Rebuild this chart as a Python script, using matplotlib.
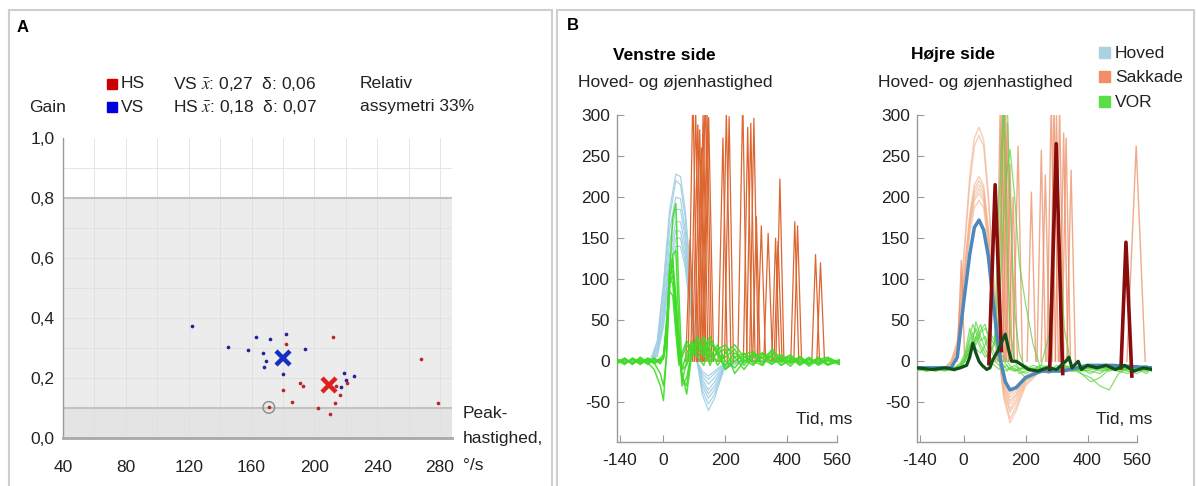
import matplotlib
matplotlib.use("Agg")
import matplotlib.pyplot as plt
from matplotlib.patches import Rectangle

plt.rcParams['font.family'] = ['Liberation Sans', 'DejaVu Sans']
plt.rcParams['mathtext.fontset'] = 'stix'
plt.rcParams['axes.unicode_minus'] = False

W, H = 1196, 486

# ---------------- panel A data ----------------
vs_speed = [122, 145, 158, 163, 172, 182, 167, 169, 168, 180, 194, 219, 220, 217, 225]
vs_gain = [0.374, 0.302, 0.293, 0.338, 0.330, 0.346, 0.282, 0.256, 0.237, 0.214, 0.298, 0.217, 0.194, 0.171, 0.208]
hs_speed = [182, 212, 180, 191, 193, 186, 171, 202, 210, 213, 216, 214, 221, 268, 279]
hs_gain = [0.313, 0.337, 0.160, 0.184, 0.172, 0.121, 0.102, 0.100, 0.081, 0.116, 0.142, 0.174, 0.183, 0.262, 0.118]
vs_mean = (180, 0.266)
hs_mean = (209, 0.176)
flagged = (171, 0.102)
speed_ticks = [40, 80, 120, 160, 200, 240, 280]
gain_ticks = [0.0, 0.2, 0.4, 0.6, 0.8, 1.0]
gain_labels = ['0,0', '0,2', '0,4', '0,6', '0,8', '1,0']

# ---------------- panel B data ----------------
time_ticks = [-140, 0, 200, 400, 560]
vel_ticks = [-50, 0, 50, 100, 150, 200, 250, 300]

# left side: head traces
head_t = [-150, -60, -40, -20, 0, 20, 40, 55, 70, 85, 105, 125, 145, 165, 195, 240, 300, 570]
head_left = [
    [0, 0, 3, 25, 95, 185, 228, 225, 185, 120, 10, -40, -60, -45, -10, -2, 0, 0],
    [0, 0, 3, 22, 90, 175, 220, 215, 175, 110, 8, -35, -52, -40, -9, -2, 0, 0],
    [0, 0, 2, 18, 80, 160, 200, 198, 160, 100, 6, -30, -45, -35, -8, 0, 0, 0],
    [0, 0, 2, 15, 70, 145, 185, 185, 150, 92, 5, -26, -40, -30, -7, 0, 0, 0],
    [0, 0, 1, 12, 60, 130, 170, 170, 140, 85, 5, -22, -35, -25, -6, 0, 0, 0],
    [0, 0, 1, 10, 55, 120, 160, 158, 130, 78, 4, -18, -28, -20, -5, 0, 0, 0],
    [0, 0, 1, 8, 48, 110, 150, 150, 122, 72, 4, -15, -22, -15, -4, 0, 0, 0],
    [0, 0, 1, 6, 42, 100, 140, 140, 115, 66, 3, -12, -18, -12, -3, 0, 0, 0],
]

# left side: VOR traces
vor_t = [-150, -125, -100, -75, -50, -30, -10, 0, 10, 20, 30, 40, 50, 60, 75, 90, 110,
         130, 150, 175, 200, 230, 260, 290, 320, 350, 380, 410, 440, 470, 500, 530, 568]
vor_left = [
    [2, -3, 3, -2, 4, 0, 2, 5, 30, 110, 175, 192, 80, -10, -5, 15, 20, 10, 25, 8, -10, 5, 10, -3, 5, 12, -2, 6, -4, 3, -5, 2, -3],
    [-2, 4, -3, 2, -4, 3, 0, 3, 25, 90, 130, 135, 40, -30, -20, 10, 25, 15, 5, 20, 0, -8, 5, 8, -5, 10, 2, -6, 5, -3, 4, -4, 0],
    [0, 3, -4, 5, -2, -10, -30, -48, 10, 100, 120, 80, 20, -15, -40, 5, 15, 30, 10, 0, 5, 15, -5, 10, 3, -4, 8, -2, 3, -6, 2, 5, -2],
    [3, -2, 2, -3, 3, -2, 4, 8, 40, 105, 110, 60, 5, -10, 10, 20, 5, 15, 30, 10, -5, 10, 2, -5, 8, 5, -5, 3, -2, 5, -3, 2, -4],
    [-3, 2, -2, 4, -1, 2, -3, 5, 45, 100, 95, 45, 0, 5, 20, 12, 30, 5, 15, -5, 10, 20, 5, 0, -5, 15, 3, -3, 6, -2, 3, -5, 1],
    [1, -4, 4, -1, 2, -3, 2, 4, 35, 115, 125, 70, 15, -25, 0, 25, 10, 20, -5, 15, 20, 5, -10, 5, 10, 0, 5, 4, -5, 2, -2, 4, -3],
    [-1, 3, -3, 2, -2, 4, -2, 6, 50, 85, 80, 35, -5, 10, 25, 15, 5, -5, 20, 15, -10, 0, 8, 12, -2, 6, -5, 2, 4, -4, 5, -3, 2],
    [2, -2, 3, -4, 2, -2, -15, -30, 5, 95, 105, 65, 10, -20, -30, 10, 20, 25, 0, 10, 15, -15, 0, 5, 10, -3, 2, 8, -2, 3, -3, 1, -2],
]

# left side: saccades (start, peak time, peak, end)
sac_l_start = [72, 80, 88, 94, 100, 106, 112, 118, 124, 130, 176, 188, 197, 240, 258, 268, 278, 288, 302, 324, 350, 357, 363, 411, 421, 479, 495]
sac_l_peak_t = [86, 95, 104, 111, 117, 123, 128, 135, 141, 146, 192, 203, 212, 256, 272, 282, 292, 300, 316, 338, 362, 370, 376, 424, 433, 491, 507]
sac_l_peak = [148, 330, 305, 288, 282, 260, 300, 330, 300, 297, 272, 305, 298, 320, 285, 290, 296, 176, 165, 156, 150, 146, 222, 170, 165, 130, 120]
sac_l_end = [100, 110, 120, 126, 132, 138, 144, 150, 156, 162, 206, 218, 226, 270, 286, 296, 306, 312, 330, 352, 375, 383, 389, 437, 446, 504, 520]

# right side: saccade-coloured head-like humps
hump_t = [-150, -60, -40, -20, 0, 20, 35, 50, 65, 80, 95, 110, 130, 150, 170, 200, 240, 300, 350, 400, 610]
hump_right = [
    [-8, -8, 0, 25, 125, 225, 272, 285, 270, 205, 115, 25, -45, -75, -60, -30, -15, -10, -12, -8, -8],
    [-8, -8, 0, 22, 120, 215, 262, 275, 262, 198, 110, 22, -42, -70, -55, -28, -14, -10, -10, -8, -8],
    [-8, -8, -2, 18, 100, 178, 215, 225, 214, 162, 90, 16, -38, -62, -50, -25, -12, -9, -10, -8, -8],
    [-8, -8, -2, 17, 97, 174, 210, 220, 210, 158, 88, 14, -35, -58, -46, -24, -12, -9, -10, -8, -8],
    [-8, -8, -2, 16, 94, 170, 205, 215, 205, 154, 86, 12, -32, -52, -42, -22, -11, -9, -9, -8, -8],
    [-8, -8, -3, 15, 92, 166, 200, 210, 200, 150, 84, 12, -30, -48, -40, -20, -10, -9, -9, -8, -8],
    [-8, -8, -3, 14, 90, 162, 196, 205, 195, 146, 80, 10, -28, -44, -36, -19, -10, -9, -9, -8, -8],
    [-8, -8, -3, 13, 86, 155, 187, 196, 187, 140, 76, 10, -26, -40, -33, -18, -10, -9, -9, -8, -8],
]

# right side: thin saccades
sac_r_start = [-20, 104, 110, 116, 122, 128, 136, 146, 160, 205, 237, 250, 269, 278, 286, 296, 309, 317, 333, 527]
sac_r_peak_t = [-7, 118, 124, 130, 136, 142, 150, 160, 176, 219, 251, 264, 283, 292, 300, 310, 323, 331, 347, 557]
sac_r_peak = [123, 300, 310, 330, 305, 290, 240, 200, 262, 206, 257, 227, 320, 310, 300, 310, 278, 272, 233, 262]
sac_r_end = [4, 132, 138, 144, 150, 156, 164, 174, 190, 233, 265, 278, 297, 306, 314, 324, 337, 345, 361, 586]

# right side: highlighted saccades
dark_start = [82, 278, 508]
dark_start_val = [-3, -10, -8]
dark_peak_t = [102, 299, 524]
dark_peak = [215, 265, 145]
dark_end = [122, 320, 543]
dark_end_val = [13, -15, -18]

# right side: VOR traces
rvor_t = [-150, -120, -90, -60, -30, -10, 5, 20, 30, 40, 55, 70, 85, 100, 115, 130, 140, 150,
          165, 180, 200, 225, 250, 275, 300, 325, 350, 380, 410, 440, 470, 500, 530, 560, 590, 608]
vor_right = [
    [-10, -8, -12, -9, -10, -5, 5, 30, 45, 35, 20, 10, 0, -5, -10, -8, -5, -10, -12, -8, -10, -5, -8, -12, -10, -5, -8, -10, -12, -15, -8, -10, -5, -10, -8, -12],
    [-8, -12, -9, -11, -8, -2, 10, 40, 25, 48, 30, 15, 5, 0, -5, -10, -12, -8, -5, -10, -15, -10, -5, -8, -12, -8, -5, -15, -20, -30, -35, -15, -8, -10, -12, -8],
    [-10, -9, -11, -8, -12, -8, 0, 20, 15, 30, 45, 25, 10, 20, 100, 300, 330, 200, 60, 10, -10, -12, -8, -5, -10, -12, -10, -8, -5, -10, -12, -8, -10, -5, -10, -12],
    [-9, -11, -8, -10, -9, -6, 2, 15, 25, 20, 35, 40, 30, 20, 60, 180, 230, 258, 200, 120, 70, 20, -10, -15, -10, -8, -12, -10, -15, -8, -10, -12, -8, -10, -5, -10],
    [-11, -8, -10, -12, -8, -5, 3, 18, 30, 40, 25, 30, 15, 5, 0, -5, -10, -8, -12, -10, -8, -10, -5, 30, 215, 40, -10, -5, -8, -12, -10, -5, -10, -8, -12, -10],
    [-8, -10, -12, -8, -11, -7, 0, 12, 20, 25, 38, 45, 20, 10, 5, 0, -5, -10, -8, -15, -12, -8, -10, -12, -5, -10, -8, -12, -10, -8, -5, -10, -12, -15, -8, -10],
    [-12, -9, -8, -11, -10, -4, 6, 25, 35, 15, 10, 20, 35, 25, 10, 5, 0, -5, -10, -12, -20, -15, -8, -10, -12, -5, -10, -15, -25, -20, -10, -8, -12, -10, -15, -8],
    [-9, -12, -10, -8, -9, -8, 2, 10, 20, 30, 15, 5, 10, 25, 200, 320, 150, 40, 0, -10, -5, -10, -12, -8, -10, -5, -12, -10, -8, -5, -10, -12, -15, -10, -8, -12],
]

# right side: mean head and mean VOR
mean_head_t = [-150, -40, -20, 0, 20, 35, 50, 65, 80, 95, 110, 120, 135, 150, 170, 200, 250, 320, 400, 480, 608]
mean_head = [-8, -8, 5, 70, 130, 163, 172, 160, 128, 75, 25, 0, -25, -35, -32, -20, -12, -12, -5, -5, -8]
mean_vor_t = [-150, -100, -60, -30, -10, 10, 20, 30, 40, 50, 60, 75, 85, 95, 110, 125, 135, 145, 155, 170,
              190, 210, 240, 270, 300, 330, 340, 350, 370, 380, 400, 430, 460, 490, 520, 550, 580, 608]
mean_vor = [-8, -10, -8, -10, -8, -5, 5, 22, 10, 0, -5, -10, -8, 2, 12, 25, 33, 15, 0, 0,
            -5, -10, -12, -8, -10, 0, 5, -8, 0, -10, -5, -8, -5, -10, -5, -12, -8, -10]

legend_names = ['Hoved', 'Sakkade', 'VOR']
legend_colors = ['#a9d1e2', '#f28d68', '#5ade45']


def fx(px):
    return px / W


def fy(py):
    return 1 - py / H


fig = plt.figure(figsize=(W / 100, H / 100), dpi=100)

# panel frames
fig.add_artist(Rectangle((fx(9), -0.1), fx(552 - 9), fy(10) + 0.1, fill=False,
                         ec='#cfcfcf', lw=1.5, transform=fig.transFigure))
fig.add_artist(Rectangle((fx(557), -0.1), fx(1194 - 557), fy(10) + 0.1, fill=False,
                         ec='#cfcfcf', lw=1.5, transform=fig.transFigure))
fig.text(fx(17), fy(28), 'A', fontsize=12, fontweight='bold', va='center')
fig.text(fx(567), fy(26), 'B', fontsize=12, fontweight='bold', va='center')

# ---------------- panel A ----------------
ax = fig.add_axes([fx(63), fy(438), fx(452 - 63), (438 - 138) / H])
ax.set_xlim(40, 287.6)
ax.set_ylim(0, 1.0)
ax.axhspan(0, 0.1, color='#e4e4e4', zorder=0, lw=0)
ax.axhspan(0.1, 0.8, color='#ececec', zorder=0, lw=0)
for yy in [0.1, 0.8]:
    ax.axhline(yy, color='#c2c2c2', lw=1.5, zorder=1)
for xx in range(40, 300, 20):
    ax.axvline(xx, color='#e0e0e0', lw=0.6, zorder=0.5)
for k in range(1, 10):
    ax.axhline(k / 10, color='#e0e0e0', lw=0.6, zorder=0.5)
ax.set_xticks(speed_ticks)
ax.set_yticks(gain_ticks)
ax.set_yticklabels(gain_labels)
ax.tick_params(axis='both', length=0, labelsize=12.5, labelcolor='#222222')
ax.tick_params(axis='x', pad=16)
ax.tick_params(axis='y', pad=6)
for s in ['top', 'right']:
    ax.spines[s].set_visible(False)
ax.spines['left'].set_color('#9a9a9a')
ax.spines['left'].set_linewidth(1)
ax.spines['bottom'].set_color('#a8a8a8')
ax.spines['bottom'].set_linewidth(2)

ax.scatter(vs_speed, vs_gain, s=7, color='#23239a', zorder=3, lw=0)
ax.scatter(hs_speed, hs_gain, s=7, color='#b8262a', zorder=3, lw=0)
ax.scatter([flagged[0]], [flagged[1]], s=70, facecolor='none', edgecolor='#8a8a8a', lw=1, zorder=3)
ax.plot([vs_mean[0]], [vs_mean[1]], marker='x', ms=10, mew=3.2, color='#1330c2', zorder=4)
ax.plot([hs_mean[0]], [hs_mean[1]], marker='x', ms=10, mew=3.2, color='#df1f1f', zorder=4)

fig.text(fx(29), fy(107), 'Gain', fontsize=12.5, va='center', color='#222222')
fig.add_artist(Rectangle((fx(107), fy(89)), fx(10), 10 / H, color='#cc0000', transform=fig.transFigure))
fig.add_artist(Rectangle((fx(107), fy(112)), fx(10), 10 / H, color='#0000dd', transform=fig.transFigure))
fig.text(fx(121), fy(84), 'HS', fontsize=12.5, va='center', color='#222222')
fig.text(fx(121), fy(107), 'VS', fontsize=12.5, va='center', color='#222222')
fig.text(fx(173), fy(84), r'VS $\bar{x}$: 0,27  δ: 0,06', fontsize=12.5, va='center', color='#222222')
fig.text(fx(173), fy(107), r'HS $\bar{x}$: 0,18  δ: 0,07', fontsize=12.5, va='center', color='#222222')
fig.text(fx(360), fy(83), 'Relativ', fontsize=12.5, va='center', color='#222222')
fig.text(fx(360), fy(106), 'assymetri 33%', fontsize=12.5, va='center', color='#222222')
for txt, yy in [('Peak-', 413), ('hastighed,', 438), ('°/s', 465)]:
    fig.text(fx(463), fy(yy), txt, fontsize=12.5, va='center', color='#222222')


# ---------------- panel B ----------------
def style_b(axb, xmax):
    axb.set_xlim(-150, xmax)
    axb.set_ylim(-98, 300)
    axb.set_xticks(time_ticks)
    axb.set_yticks(vel_ticks)
    axb.tick_params(direction='in', length=5, color='#9a9a9a', labelsize=12.5,
                    labelcolor='#222222')
    axb.tick_params(axis='x', pad=8)
    axb.tick_params(axis='y', pad=5)
    for s in ['top', 'right']:
        axb.spines[s].set_visible(False)
    for s in ['left', 'bottom']:
        axb.spines[s].set_color('#9a9a9a')
        axb.spines[s].set_linewidth(1)
    axb.spines['bottom'].set_bounds(-150, 560)
    axb.patch.set_alpha(0)


def pulses(axb, starts, peak_t, peaks, ends, **kw):
    for a, t, p, b in zip(starts, peak_t, peaks, ends):
        axb.plot([a, t, b], [0, p, 0], solid_joinstyle='round', **kw)


axl = fig.add_axes([fx(617), fy(441.7), fx(840 - 617), (441.7 - 115) / H])
style_b(axl, 570)
for row in head_left:
    axl.plot(head_t, row, color='#9fcfe3', lw=0.9, alpha=0.9, zorder=1)
pulses(axl, sac_l_start, sac_l_peak_t, sac_l_peak, sac_l_end, color='#dc6530', lw=0.9, zorder=2)
for row in vor_left:
    axl.plot(vor_t, row, color='#3fdc26', lw=1.1, alpha=0.9, zorder=3)

axr = fig.add_axes([fx(917), fy(441.7), fx(1152 - 917), (441.7 - 115) / H])
style_b(axr, 608)
for row in hump_right:
    axr.plot(hump_t, row, color='#f3b08a', lw=1, alpha=0.6, zorder=1)
pulses(axr, sac_r_start, sac_r_peak_t, sac_r_peak, sac_r_end, color='#ea855a', lw=1, alpha=0.7, zorder=2)
for row in vor_right:
    axr.plot(rvor_t, row, color='#5cd640', lw=0.9, alpha=0.75, zorder=3)
axr.plot(mean_head_t, mean_head, color='#4b88bd', lw=2.5, zorder=4, solid_joinstyle='round')
for a, av, t, p, b, bv in zip(dark_start, dark_start_val, dark_peak_t, dark_peak, dark_end, dark_end_val):
    axr.plot([a, t, b], [av, p, bv], color='#8a0c0c', lw=2.6, zorder=5, solid_joinstyle='round')
axr.plot(mean_vor_t, mean_vor, color='#11501a', lw=2.3, zorder=6, solid_joinstyle='round')

for px in [852, 1152]:
    fig.text(fx(px), fy(420), 'Tid, ms', fontsize=12.5, ha='right', va='center', color='#222222')

fig.text(fx(664), fy(55), 'Venstre side', fontsize=12.5, fontweight='bold', ha='center', va='center')
fig.text(fx(953), fy(55), 'Højre side', fontsize=12.5, fontweight='bold', ha='center', va='center')
fig.text(fx(578), fy(83), 'Hoved- og øjenhastighed', fontsize=12.5, va='center', color='#222222')
fig.text(fx(878), fy(83), 'Hoved- og øjenhastighed', fontsize=12.5, va='center', color='#222222')
for k, (name, col) in enumerate(zip(legend_names, legend_colors)):
    yy = 53 + k * 24.5
    fig.add_artist(Rectangle((fx(1099), fy(yy + 5)), fx(11), 11 / H, color=col, transform=fig.transFigure))
    fig.text(fx(1115), fy(yy), name, fontsize=12.5, va='center', color='#222222')

fig.savefig('out.png', dpi=100)
